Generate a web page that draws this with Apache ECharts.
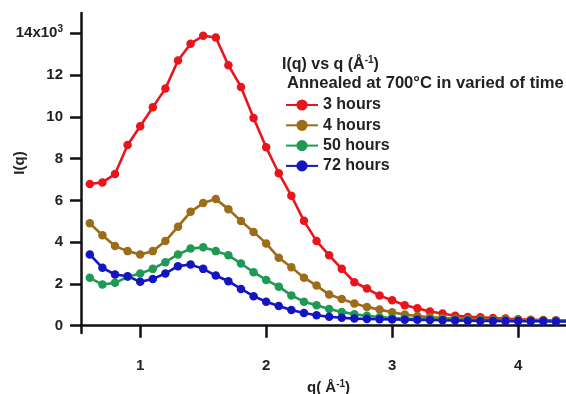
<!DOCTYPE html>
<html>
<head>
<meta charset="utf-8">
<script src="https://cdn.jsdelivr.net/npm/echarts@6/dist/echarts.min.js"></script>
<style>html,body{margin:0;padding:0;background:#fff}#c{width:566px;height:394px}</style>
</head>
<body>
<div id="c"></div>
<script>
const qValues = [0.6,0.7,0.8,0.9,1.0,1.1,1.2,1.3,1.4,1.5,1.6,1.7,1.8,1.9,2.0,2.1,2.2,2.3,2.4,2.5,2.6,2.7,2.8,2.9,3.0,3.1,3.2,3.3,3.4,3.5,3.6,3.7,3.8,3.9,4.0,4.1,4.2,4.3,4.4];
const seriesNames = ['3 hours','4 hours','50 hours','72 hours'];
const h3 = [6.78,6.86,7.26,8.65,9.55,10.46,11.35,12.7,13.5,13.88,13.8,12.47,11.43,9.94,8.54,7.3,6.22,5.02,4.05,3.37,2.72,2.08,1.78,1.44,1.22,0.98,0.83,0.68,0.58,0.48,0.42,0.4,0.37,0.34,0.31,0.29,0.27,0.26,0.25];
const h4 = [4.9,4.33,3.81,3.57,3.41,3.57,4.05,4.74,5.45,5.87,6.06,5.58,5.01,4.49,3.94,3.25,2.8,2.3,1.92,1.49,1.28,1.06,0.9,0.77,0.64,0.53,0.46,0.41,0.37,0.34,0.32,0.3,0.29,0.28,0.27,0.26,0.25,0.24,0.24];
const h50 = [2.29,1.97,2.05,2.34,2.5,2.72,3.04,3.41,3.69,3.75,3.57,3.37,2.98,2.56,2.19,1.87,1.45,1.15,0.98,0.8,0.66,0.55,0.47,0.41,0.37,0.34,0.32,0.3,0.29,0.28,0.27,0.26,0.25,0.25,0.24,0.24,0.23,0.23,0.23];
const h72 = [3.41,2.77,2.45,2.37,2.1,2.24,2.5,2.85,2.93,2.72,2.4,2.13,1.76,1.41,1.15,0.94,0.75,0.61,0.5,0.43,0.38,0.34,0.32,0.31,0.3,0.29,0.28,0.27,0.26,0.25,0.24,0.23,0.23,0.22,0.22,0.21,0.21,0.2,0.2];
const xTicks = [1,2,3,4];
const yTicks = [0,2,4,6,8,10,12,14];
const colors = ['#e8161c','#9c6c18','#1f9a55','#1414c0'];

const FONT = "'Liberation Sans', Arial, sans-serif";
const allData = [h3,h4,h50,h72];
const chart = echarts.init(document.getElementById('c'), null, {renderer:'canvas'});
const series = allData.map((arr,i)=>({
  name: seriesNames[i],
  type: 'line',
  data: qValues.map((q,j)=>[q,arr[j]]),
  symbol: 'circle',
  symbolSize: 8.5,
  lineStyle: {width: 2.6, color: colors[i]},
  itemStyle: {color: colors[i]},
  clip: true,
  animation: false
}));
chart.setOption({
  animation: false,
  backgroundColor: '#fff',
  grid: {left: 81, right: 0, top: 13, bottom: 61, containLabel: false, outerBoundsMode: 'none'},
  xAxis: {
    type: 'value', min: 0.53, max: 4.38,
    axisLine: {lineStyle: {color: '#111', width: 2.5}},
    axisTick: {customValues: xTicks, length: 12, lineStyle: {color: '#111', width: 2.5}},
    axisLabel: {customValues: xTicks, margin: 25, fontFamily: FONT, fontWeight: 'bold', fontSize: 15, color: '#222'},
    splitLine: {show: false},
    name: 'q( Å{sup|-1})',
    nameLocation: 'middle',
    nameGap: 46,
    nameTextStyle: {fontFamily: FONT, fontWeight: 'bold', fontSize: 15, color: '#222', padding: [0,0,0,10],
      rich: {sup: {fontFamily: FONT, fontWeight: 'bold', fontSize: 10, color: '#222', padding: [0,0,8,0]}}}
  },
  yAxis: {
    type: 'value', min: -0.35, max: 14.97,
    axisLine: {show: true, lineStyle: {color: '#111', width: 2.5}},
    axisTick: {show: true, customValues: yTicks, length: 11, lineStyle: {color: '#111', width: 2.5}},
    axisLabel: {customValues: yTicks, margin: 18, fontFamily: FONT, fontWeight: 'bold', fontSize: 15, color: '#222',
      formatter: v => v === 14 ? '14x10{sup|3}' : String(v),
      rich: {sup: {fontFamily: FONT, fontWeight: 'bold', fontSize: 10, color: '#222', padding: [0,0,9,0]}}},
    splitLine: {show: false}
  },
  legend: {
    data: seriesNames,
    orient: 'vertical',
    left: 285, top: 97, padding: 0,
    itemWidth: 32, itemHeight: 14, itemGap: 4.3,
    textStyle: {fontFamily: FONT, fontWeight: 'bold', fontSize: 16, color: '#222', lineHeight: 14}
  },
  graphic: [
    {type: 'text', left: 282, top: 55, style: {text: 'I(q) vs q (Å{sup|-1})', font: "bold 16px " + FONT, fill: '#222',
      rich: {sup: {fontFamily: FONT, fontWeight: 'bold', fontSize: 10, fill: '#222', padding: [0,0,9,0]}}}},
    {type: 'text', left: 287, top: 75, style: {text: 'Annealed at 700°C in varied of time', font: "bold 16.6px " + FONT, fill: '#222'}},
    {type: 'text', x: 20, y: 163, rotation: Math.PI/2, style: {text: 'I(q)', font: "bold 15px " + FONT, fill: '#222', align: 'center', verticalAlign: 'middle'}}
  ],
  series: series
});
</script>
</body>
</html>
